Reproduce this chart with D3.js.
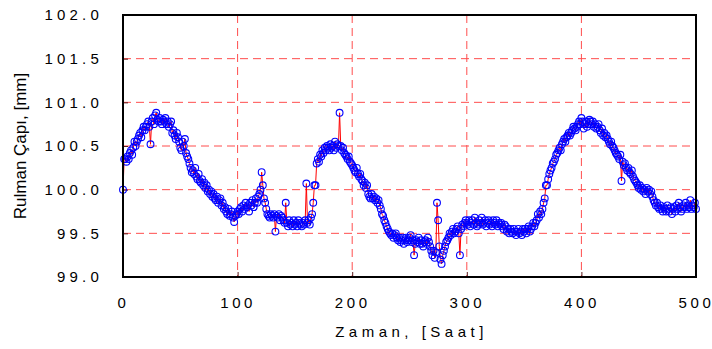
<!DOCTYPE html>
<html>
<head>
<meta charset="utf-8">
<script src="https://cdn.jsdelivr.net/npm/d3@7"></script>
<style>
body { margin: 0; background: #fff; }
text { font-family: Arial, "Liberation Sans", sans-serif; }
</style>
</head>
<body>
<svg id="chart"></svg>
<script>
var width = 712;
var height = 349;
var svg = d3.select("#chart").attr("width", width).attr("height", height);

// hourly readings, t = 0..500
var step = 1;
var diameter = [
  100.00, 100.35, 100.35, 100.32, 100.38, 100.35, 100.42, 100.45, 100.40, 100.48,
  100.55, 100.50, 100.55, 100.58, 100.62, 100.65, 100.60, 100.68, 100.72, 100.68,
  100.72, 100.75, 100.78, 100.72, 100.52, 100.78, 100.82, 100.75, 100.85, 100.88,
  100.80, 100.78, 100.82, 100.78, 100.75, 100.80, 100.78, 100.82, 100.75, 100.78,
  100.72, 100.75, 100.78, 100.65, 100.68, 100.62, 100.58, 100.65, 100.60, 100.55,
  100.48, 100.45, 100.55, 100.50, 100.58, 100.42, 100.38, 100.35, 100.30, 100.25,
  100.20, 100.22, 100.18, 100.25, 100.15, 100.12, 100.18, 100.10, 100.08, 100.12,
  100.05, 100.08, 100.02, 100.05, 99.98, 100.00, 99.95, 99.98, 99.92, 99.95,
  99.90, 99.88, 99.92, 99.85, 99.88, 99.90, 99.82, 99.85, 99.78, 99.80,
  99.75, 99.72, 99.78, 99.70, 99.72, 99.75, 99.68, 99.63, 99.70, 99.72,
  99.75, 99.72, 99.78, 99.80, 99.75, 99.82, 99.78, 99.85, 99.80, 99.82,
  99.75, 99.85, 99.82, 99.88, 99.80, 99.85, 99.90, 99.85, 99.92, 99.95,
  100.00, 100.20, 100.05, 99.90, 99.85, 99.78, 99.72, 99.70, 99.68, 99.72,
  99.70, 99.68, 99.72, 99.52, 99.70, 99.68, 99.72, 99.65, 99.70, 99.68,
  99.65, 99.62, 99.85, 99.62, 99.58, 99.65, 99.60, 99.62, 99.58, 99.65,
  99.60, 99.62, 99.58, 99.65, 99.62, 99.60, 99.58, 99.62, 99.60, 99.65,
  100.07, 99.62, 99.65, 99.60, 99.68, 99.72, 99.85, 100.05, 100.05, 100.30,
  100.35, 100.32, 100.40, 100.38, 100.45, 100.42, 100.48, 100.45, 100.50, 100.48,
  100.45, 100.52, 100.48, 100.50, 100.45, 100.55, 100.48, 100.52, 100.50, 100.88,
  100.50, 100.45, 100.48, 100.42, 100.40, 100.38, 100.35, 100.38, 100.32, 100.30,
  100.28, 100.25, 100.22, 100.20, 100.25, 100.18, 100.15, 100.18, 100.12, 100.10,
  100.05, 100.08, 100.02, 100.05, 99.95, 99.92, 99.90, 99.95, 99.90, 99.92,
  99.88, 99.90, 99.85, 99.88, 99.82, 99.78, 99.72, 99.70, 99.65, 99.62,
  99.58, 99.55, 99.52, 99.50, 99.48, 99.50, 99.45, 99.48, 99.50, 99.45,
  99.42, 99.45, 99.40, 99.42, 99.45, 99.38, 99.42, 99.45, 99.40, 99.42,
  99.45, 99.48, 99.40, 99.42, 99.25, 99.38, 99.42, 99.40, 99.45, 99.38,
  99.42, 99.38, 99.35, 99.40, 99.42, 99.38, 99.45, 99.40, 99.35, 99.30,
  99.25, 99.30, 99.22, 99.28, 99.85, 99.65, 99.35, 99.20, 99.15, 99.25,
  99.30, 99.35, 99.40, 99.42, 99.45, 99.50, 99.48, 99.52, 99.55, 99.50,
  99.52, 99.55, 99.58, 99.50, 99.25, 99.55, 99.60, 99.58, 99.62, 99.65,
  99.62, 99.60, 99.65, 99.58, 99.62, 99.65, 99.60, 99.68, 99.62, 99.58,
  99.60, 99.65, 99.62, 99.68, 99.60, 99.62, 99.65, 99.58, 99.62, 99.65,
  99.60, 99.62, 99.58, 99.65, 99.62, 99.60, 99.65, 99.58, 99.62, 99.60,
  99.62, 99.58, 99.55, 99.60, 99.58, 99.52, 99.55, 99.50, 99.55, 99.52,
  99.50, 99.55, 99.52, 99.48, 99.52, 99.55, 99.50, 99.52, 99.48, 99.55,
  99.52, 99.55, 99.50, 99.55, 99.58, 99.52, 99.55, 99.58, 99.62, 99.58,
  99.62, 99.65, 99.72, 99.68, 99.75, 99.72, 99.78, 99.85, 99.90, 100.05,
  100.05, 100.12, 100.18, 100.22, 100.25, 100.30, 100.32, 100.35, 100.40, 100.42,
  100.45, 100.48, 100.45, 100.52, 100.55, 100.58, 100.55, 100.60, 100.62, 100.65,
  100.62, 100.65, 100.68, 100.72, 100.70, 100.68, 100.72, 100.75, 100.78, 100.75,
  100.82, 100.78, 100.70, 100.75, 100.78, 100.72, 100.75, 100.80, 100.78, 100.75,
  100.78, 100.72, 100.75, 100.70, 100.72, 100.75, 100.68, 100.65, 100.70, 100.62,
  100.65, 100.60, 100.62, 100.58, 100.55, 100.52, 100.55, 100.50, 100.48, 100.45,
  100.42, 100.40, 100.38, 100.35, 100.40, 100.10, 100.32, 100.28, 100.30, 100.25,
  100.22, 100.25, 100.20, 100.18, 100.22, 100.15, 100.12, 100.10, 100.08, 100.05,
  100.02, 100.05, 100.00, 100.02, 99.98, 100.00, 99.95, 100.02, 99.98, 100.00,
  99.95, 99.98, 99.92, 99.88, 99.85, 99.82, 99.85, 99.80, 99.78, 99.82,
  99.78, 99.75, 99.80, 99.78, 99.75, 99.82, 99.78, 99.75, 99.80, 99.72,
  99.78, 99.80, 99.75, 99.82, 99.78, 99.85, 99.80, 99.75, 99.78, 99.82,
  99.80, 99.85, 99.78, 99.82, 99.80, 99.88, 99.78, 99.82, 99.80, 99.85,
  99.78
];
var xTicks = [0, 100, 200, 300, 400, 500];
var yTicks = [99.0, 99.5, 100.0, 100.5, 101.0, 101.5, 102.0];

var data = diameter.map(function(v, i) { return {t: i * step, v: v}; });

var plotL = 123, plotR = 696, plotT = 15, plotB = 277;
var x = d3.scaleLinear().domain([0, 500]).range([plotL, plotR]);
var y = d3.scaleLinear().domain([99, 102]).range([plotB, plotT]);

// grid
var grid = svg.append("g").attr("class", "grid");
grid.selectAll("line.v").data(xTicks.slice(1, -1)).enter().append("line")
  .attr("x1", function(d) { return x(d); }).attr("x2", function(d) { return x(d); })
  .attr("y1", plotT).attr("y2", plotB)
  .attr("stroke", "#ff4d4d").attr("stroke-width", 1).attr("stroke-dasharray", "8,5");
grid.selectAll("line.h").data(yTicks.slice(1, -1)).enter().append("line")
  .attr("y1", function(d) { return y(d); }).attr("y2", function(d) { return y(d); })
  .attr("x1", plotL).attr("x2", plotR)
  .attr("stroke", "#ff4d4d").attr("stroke-width", 1).attr("stroke-dasharray", "8,5");

// axes
var xAxis = d3.axisBottom(x).tickValues(xTicks).tickSize(-5).tickPadding(20)
  .tickFormat(d3.format("d"));
var yAxis = d3.axisLeft(y).tickValues(yTicks).tickSize(-5).tickPadding(20)
  .tickFormat(d3.format(".1f"));

var gx = svg.append("g").attr("transform", "translate(0," + plotB + ")").call(xAxis);
var gy = svg.append("g").attr("transform", "translate(" + plotL + ",0)").call(yAxis);
[gx, gy].forEach(function(g) {
  g.select(".domain").remove();
  g.selectAll(".tick line").attr("stroke", "#5a1a1a").attr("stroke-width", 1);
  g.selectAll(".tick text").attr("fill", "#000").style("font-size", "15px")
    .style("letter-spacing", "4.2px").attr("font-family", "Arial, 'Liberation Sans', sans-serif");
});
gx.selectAll(".tick text").style("letter-spacing", "3.6px");

// line + markers
var line = d3.line().x(function(d) { return x(d.t); }).y(function(d) { return y(d.v); });
svg.append("path").datum(data).attr("d", line)
  .attr("fill", "none").attr("stroke", "#ff0000").attr("stroke-width", 1);
svg.append("g").selectAll("circle").data(data).enter().append("circle")
  .attr("cx", function(d) { return x(d.t); })
  .attr("cy", function(d) { return y(d.v); })
  .attr("r", 3.4)
  .attr("fill", "none").attr("stroke", "#0000ff").attr("stroke-width", 1.1);

// frame
svg.append("rect").attr("x", plotL).attr("y", plotT)
  .attr("width", plotR - plotL).attr("height", plotB - plotT)
  .attr("fill", "none").attr("stroke", "#000").attr("stroke-width", 2);

// titles
svg.append("text").attr("x", (plotL + plotR) / 2 + 2).attr("y", 337)
  .attr("text-anchor", "middle").style("font-size", "15px").style("letter-spacing", "4.5px")
  .text("Zaman, [Saat]");
svg.append("text").attr("transform", "translate(26," + (plotT + plotB) / 2 + ") rotate(-90)")
  .attr("text-anchor", "middle").style("font-size", "17px")
  .text("Rulman Çapı, [mm]");
</script>
</body>
</html>
